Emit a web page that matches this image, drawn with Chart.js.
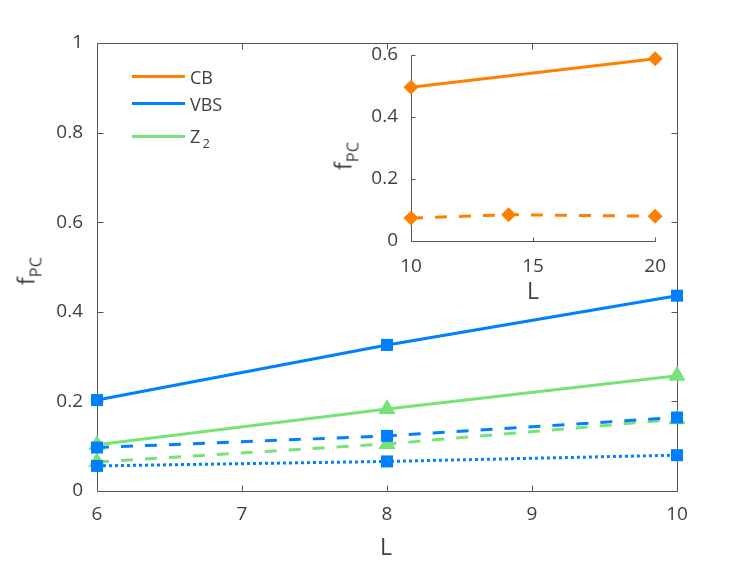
<!DOCTYPE html>
<html>
<head>
<meta charset="utf-8">
<script src="https://cdn.jsdelivr.net/npm/chart.js@4/dist/chart.umd.min.js"></script>
<style>
  html, body { margin: 0; padding: 0; background: #fff; }
  #wrap { position: relative; width: 747px; height: 561px; font-family: "Open Sans", sans-serif; color: #404040; }
  #main { position: absolute; left: 0; top: 0; width: 747px; height: 561px; }
  #inset { position: absolute; left: 340px; top: 30px; width: 340px; height: 280px; }
  .lab { position: absolute; white-space: nowrap; line-height: 1; transform: translate(-50%, -50%); }
  .rot { transform: translate(-50%, -50%) rotate(-90deg); }
  .lab sub, .leg sub { font-size: 0.72em; vertical-align: -0.4em; line-height: 0; }
  .leg { position: absolute; left: 132px; font-size: 18px; line-height: 1; }
  .leg span.ln { position: absolute; left: 0; width: 53px; height: 3px; }
  .leg span.tx { position: absolute; left: 58px; transform: translateY(-50%); white-space: nowrap; }
</style>
</head>
<body>
<div id="wrap">
  <canvas id="main" width="747" height="561"></canvas>
  <canvas id="inset" width="340" height="280"></canvas>
  <div class="lab" style="left:386px; top:546px; font-size:23px;">L</div>
  <div class="lab rot" style="left:26px; top:271px; font-size:23px;">f<sub>PC</sub></div>
  <div class="lab" style="left:533px; top:290px; font-size:23px;">L</div>
  <div class="lab rot" style="left:343px; top:156px; font-size:23px;">f<sub>PC</sub></div>
  <div class="leg" style="top:76px;"><span class="ln" style="background:#ff8000; top:-1.5px;"></span><span class="tx" style="top:1px;">CB</span></div>
  <div class="leg" style="top:103px;"><span class="ln" style="background:#0080ff; top:-1.5px;"></span><span class="tx" style="top:1px;">VBS</span></div>
  <div class="leg" style="top:136px;"><span class="ln" style="background:#77e277; top:-1.5px;"></span><span class="tx" style="top:0px;">Z<sub>&thinsp;2</sub></span></div>
</div>
<script>
// main panel
const mainL = [6, 8, 10];
const vbsSolid = [0.203, 0.326, 0.436];
const vbsDashed = [0.097, 0.123, 0.164];
const vbsDotted = [0.056, 0.066, 0.080];
const z2Solid = [0.103, 0.183, 0.257];
const z2Dashed = [0.065, 0.105, 0.160];

// inset panel
const cbSolidL = [10, 20];
const cbSolid = [0.496, 0.588];
const cbDashedL = [10, 14, 20];
const cbDashed = [0.074, 0.085, 0.080];

const mainXTicks = [6, 7, 8, 9, 10];
const mainYTicks = [0, 0.2, 0.4, 0.6, 0.8, 1];
const insetXTicks = [10, 15, 20];
const insetYTicks = [0, 0.2, 0.4, 0.6];

const BLUE = '#0080ff', GREEN = '#77e277', ORANGE = '#ff8000';
const TXT = '#404040', AXIS = '#555555';

function pts(xs, ys) {
  return xs.map((x, i) => ({ x: x, y: ys[i] }));
}
function fmt(v) {
  return String(Number(v.toFixed(1)));
}
function line(data, color, dash, style, r) {
  return {
    data: data,
    borderColor: color,
    backgroundColor: color,
    borderWidth: 3,
    borderDash: dash,
    pointStyle: style,
    pointRadius: r,
    pointHoverRadius: r,
    pointBorderWidth: 0,
    pointBackgroundColor: color,
    clip: false,
    tension: 0
  };
}

// matlab-ish axes: inward ticks, optional box
const boxTicks = {
  id: 'boxTicks',
  beforeDatasetsDraw(chart, args, opts) {
    const { ctx, chartArea: a, scales: { x, y } } = chart;
    const len = opts.len;
    const L = Math.round(a.left) + 0.5, R = Math.round(a.right) + 0.5;
    const T = Math.round(a.top) + 0.5, B = Math.round(a.bottom) + 0.5;
    ctx.save();
    ctx.strokeStyle = opts.color;
    ctx.lineWidth = 1;
    ctx.beginPath();
    ctx.moveTo(L, T); ctx.lineTo(L, B); ctx.lineTo(R, B);
    if (opts.box) { ctx.lineTo(R, T); ctx.lineTo(L, T); }
    x.ticks.forEach(t => {
      const px = Math.round(x.getPixelForValue(t.value)) + 0.5;
      ctx.moveTo(px, B); ctx.lineTo(px, B - len);
      if (opts.box) { ctx.moveTo(px, T); ctx.lineTo(px, T + len); }
    });
    y.ticks.forEach(t => {
      const py = Math.round(y.getPixelForValue(t.value)) + 0.5;
      ctx.moveTo(L, py); ctx.lineTo(L + len, py);
      if (opts.box) { ctx.moveTo(R, py); ctx.lineTo(R - len, py); }
    });
    ctx.stroke();
    ctx.restore();
  }
};

function axisOpts(min, max, tickVals, pad, fitKey, fitVal) {
  return {
    type: 'linear',
    min: min,
    max: max,
    grid: { display: false, drawTicks: false },
    border: { display: false },
    afterBuildTicks: s => { s.ticks = tickVals.map(v => ({ value: v })); },
    ticks: {
      padding: pad,
      color: TXT,
      font: { family: 'Open Sans', size: 19 },
      callback: v => fmt(v),
      maxRotation: 0
    },
    afterFit: s => { s[fitKey] = fitVal; }
  };
}

new Chart(document.getElementById('main'), {
  type: 'line',
  data: {
    datasets: [
      line(pts(mainL, vbsSolid), BLUE, [], 'rect', 8.5),
      line(pts(mainL, vbsDashed), BLUE, [12, 12], 'rect', 8.5),
      line(pts(mainL, vbsDotted), BLUE, [3, 3], 'rect', 8.5),
      line(pts(mainL, z2Solid), GREEN, [], 'triangle', 10),
      line(pts(mainL, z2Dashed), GREEN, [12, 12], 'triangle', 10)
    ]
  },
  plugins: [boxTicks],
  options: {
    responsive: false,
    animation: false,
    events: [],
    layout: { padding: { left: 0, right: 70, top: 43, bottom: 0 } },
    plugins: {
      legend: { display: false },
      tooltip: { enabled: false },
      boxTicks: { color: AXIS, len: 6, box: true }
    },
    scales: {
      x: axisOpts(6, 10, mainXTicks, 12, 'height', 70),
      y: axisOpts(0, 1, mainYTicks, 14, 'width', 97)
    }
  }
});

new Chart(document.getElementById('inset'), {
  type: 'line',
  data: {
    datasets: [
      line(pts(cbSolidL, cbSolid), ORANGE, [], 'rectRot', 7.5),
      line(pts(cbDashedL, cbDashed), ORANGE, [12, 12], 'rectRot', 7.5)
    ]
  },
  plugins: [boxTicks],
  options: {
    responsive: false,
    animation: false,
    events: [],
    layout: { padding: { left: 0, right: 23, top: 25, bottom: 0 } },
    plugins: {
      legend: { display: false },
      tooltip: { enabled: false },
      boxTicks: { color: AXIS, len: 4, box: false }
    },
    scales: {
      x: axisOpts(10, 20, insetXTicks, 14, 'height', 69),
      y: axisOpts(0, 0.6, insetYTicks, 13, 'width', 71)
    }
  }
});
</script>
</body>
</html>
